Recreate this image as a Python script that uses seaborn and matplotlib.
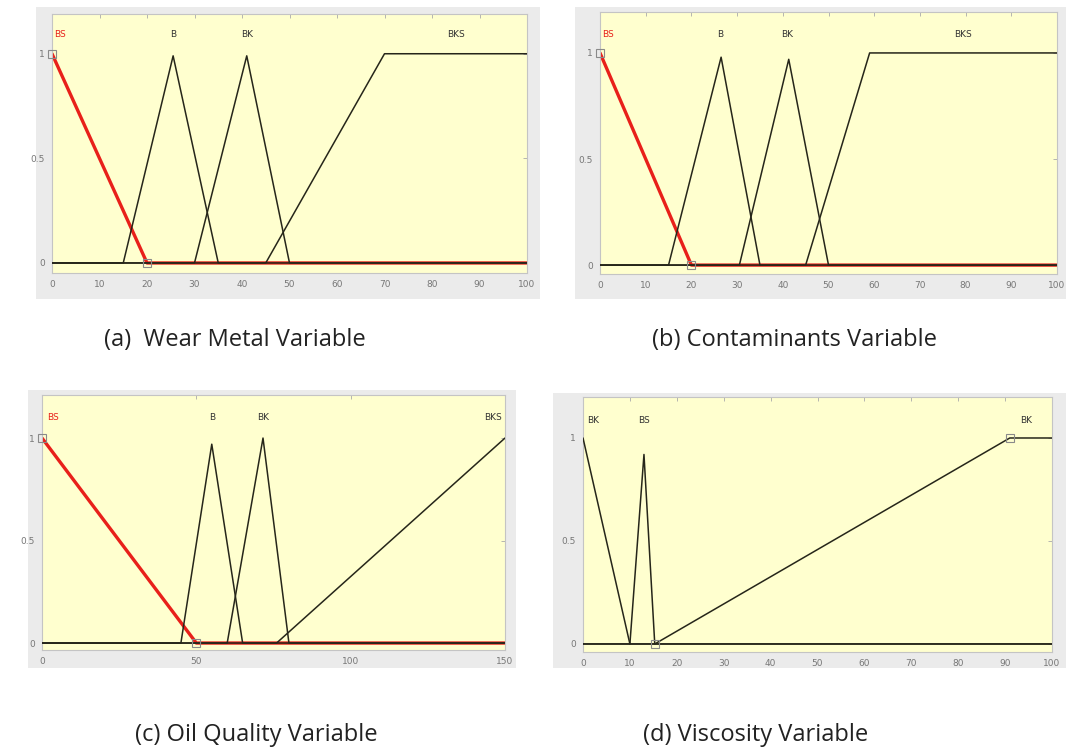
import matplotlib
matplotlib.use("Agg")
import matplotlib.pyplot as plt
import seaborn as sns
import pandas as pd
from matplotlib.patches import Rectangle

sns.set_style("white")
plt.rcParams['font.family'] = ['Open Sans', 'DejaVu Sans']

# ---------------- DATA ----------------
# (a) Wear Metal Variable
wm_names = ["BS", "B", "BK", "BKS"]
wm_bs_x = [0, 20, 100];            wm_bs_y = [1, 0, 0]
wm_b_x = [0, 15, 25.5, 35, 100];   wm_b_y = [0, 0, 0.99, 0, 0]
wm_bk_x = [0, 30, 41, 50, 100];    wm_bk_y = [0, 0, 0.99, 0, 0]
wm_bks_x = [0, 45, 70, 100];       wm_bks_y = [0, 0, 1, 1]
wm_label_x = [1.7, 25.5, 41, 85]
wm_sel_x = [0, 20];                wm_sel_y = [1, 0]

# (b) Contaminants Variable
ct_names = ["BS", "B", "BK", "BKS"]
ct_bs_x = [0, 20, 100];            ct_bs_y = [1, 0, 0]
ct_b_x = [0, 15, 26.5, 35, 100];   ct_b_y = [0, 0, 0.98, 0, 0]
ct_bk_x = [0, 30.5, 41.3, 50, 100]; ct_bk_y = [0, 0, 0.97, 0, 0]
ct_bks_x = [0, 45, 59, 100];       ct_bks_y = [0, 0, 1, 1]
ct_label_x = [1.7, 26.4, 41, 79.5]
ct_sel_x = [0, 20];                ct_sel_y = [1, 0]

# (c) Oil Quality Variable
oq_names = ["BS", "B", "BK", "BKS"]
oq_bs_x = [0, 50, 150];            oq_bs_y = [1, 0, 0]
oq_b_x = [0, 45, 55, 65, 150];     oq_b_y = [0, 0, 0.97, 0, 0]
oq_bk_x = [0, 60, 71.6, 80, 150];  oq_bk_y = [0, 0, 1, 0, 0]
oq_bks_x = [0, 76, 150];           oq_bks_y = [0, 0, 1]
oq_label_x = [3.6, 55, 71.5, 146]
oq_sel_x = [0, 50];                oq_sel_y = [1, 0]

# (d) Viscosity Variable
vs_names = ["BK", "BS", "BK"]
vs_bk1_x = [0, 10, 100];           vs_bk1_y = [1, 0, 0]
vs_bs_x = [0, 10, 13, 15.3, 100];  vs_bs_y = [0, 0, 0.92, 0, 0]
vs_bk2_x = [0, 15.3, 91, 100];     vs_bk2_y = [0, 0, 1, 1]
vs_label_x = [2.1, 13, 94.5]
vs_sel_x = [15.3, 91];             vs_sel_y = [0, 1]

captions = ["(a)  Wear Metal Variable", "(b) Contaminants Variable",
            "(c) Oil Quality Variable", "(d) Viscosity Variable"]

# ---------------- STYLE ----------------
W, H = 1068, 747
AX_FACE = "#FFFFCF"
PANEL_GREY = "#EBEBEB"
LINE_DARK = "#26261a"
RED = "#E8201A"

fig = plt.figure(figsize=(W / 100, H / 100), dpi=100)
fig.patch.set_facecolor("white")

# background axes holding the grey frames
bg = fig.add_axes([0, 0, 1, 1], zorder=-10)
bg.set_xlim(0, W)
bg.set_ylim(H, 0)
bg.axis("off")


def px_rect(x0, y0, x1, y1):
    return [x0 / W, 1 - y1 / H, (x1 - x0) / W, (y1 - y0) / H]


def grey_panel(x0, y0, x1, y1):
    bg.add_patch(Rectangle((x0, y0), x1 - x0, y1 - y0, facecolor=PANEL_GREY,
                           edgecolor="none"))


def draw_panel(rect, xlim, ylim, xticks, mfs, red_idx, names, label_x, label_y,
               sel_x, sel_y):
    ax = fig.add_axes(rect, zorder=1)
    ax.set_facecolor(AX_FACE)
    order = ([red_idx] if red_idx is not None else []) + \
            [i for i in range(len(mfs)) if i != red_idx]
    for i in order:
        xs, ys = mfs[i]
        df = pd.DataFrame({"x": xs, "y": ys})
        if i == red_idx:
            sns.lineplot(data=df, x="x", y="y", sort=False, estimator=None,
                         color=RED, linewidth=2.4, ax=ax, zorder=2)
        else:
            sns.lineplot(data=df, x="x", y="y", sort=False, estimator=None,
                         color=LINE_DARK, linewidth=1.1, ax=ax, zorder=3)
    ax.plot(sel_x, sel_y, linestyle="none", marker="s", markersize=6,
            markerfacecolor="none", markeredgecolor="#8a8a8a", markeredgewidth=0.8,
            zorder=4, clip_on=False)
    for j, (name, lx) in enumerate(zip(names, label_x)):
        col = RED if j == red_idx else "#333333"
        ax.text(lx, label_y, name, ha="center", va="center", fontsize=6.5,
                color=col, family=["DejaVu Sans"], zorder=5)
    ax.set_xlim(*xlim)
    ax.set_ylim(*ylim)
    ax.set_xticks(xticks)
    ax.set_xticklabels([str(t) for t in xticks])
    ax.set_yticks([0, 0.5, 1])
    ax.set_yticklabels(["0", "0.5", "1"])
    ax.set_xlabel("")
    ax.set_ylabel("")
    ax.tick_params(direction="in", length=3, width=0.6, color="#aaaaaa",
                   labelsize=6.5, labelcolor="#777777", top=True, right=True,
                   pad=5)
    for lab in ax.get_xticklabels() + ax.get_yticklabels():
        lab.set_family("DejaVu Sans")
    for s in ax.spines.values():
        s.set_color("#c4c4c4")
        s.set_linewidth(0.8)
    return ax


# grey frames
grey_panel(36, 7, 540, 299)
grey_panel(575, 7, 1066, 299)
grey_panel(28, 390, 516, 668)
grey_panel(553, 393, 1066, 668)

ticks100 = list(range(0, 101, 10))
ticks150 = [0, 50, 100, 150]

draw_panel(px_rect(52, 14, 527, 273), (0, 100), (-0.048, 1.19), ticks100,
           [(wm_bs_x, wm_bs_y), (wm_b_x, wm_b_y), (wm_bk_x, wm_bk_y), (wm_bks_x, wm_bks_y)],
           0, wm_names, wm_label_x, 1.09, wm_sel_x, wm_sel_y)

draw_panel(px_rect(600, 12, 1057, 274), (0, 100), (-0.042, 1.193), ticks100,
           [(ct_bs_x, ct_bs_y), (ct_b_x, ct_b_y), (ct_bk_x, ct_bk_y), (ct_bks_x, ct_bks_y)],
           0, ct_names, ct_label_x, 1.085, ct_sel_x, ct_sel_y)

draw_panel(px_rect(42, 395, 505, 650), (0, 150), (-0.034, 1.21), ticks150,
           [(oq_bs_x, oq_bs_y), (oq_b_x, oq_b_y), (oq_bk_x, oq_bk_y), (oq_bks_x, oq_bks_y)],
           0, oq_names, oq_label_x, 1.10, oq_sel_x, oq_sel_y)

draw_panel(px_rect(583, 397, 1052, 652), (0, 100), (-0.039, 1.199), ticks100,
           [(vs_bk1_x, vs_bk1_y), (vs_bs_x, vs_bs_y), (vs_bk2_x, vs_bk2_y)],
           None, vs_names, vs_label_x, 1.087, vs_sel_x, vs_sel_y)

# captions
cap_pos = [(235, 340), (795, 340), (256, 735), (756, 735)]
for txt, (cx, cy) in zip(captions, cap_pos):
    fig.text(cx / W, 1 - cy / H, txt, ha="center", va="center", fontsize=17,
             color="#222222")

fig.savefig("out.png", dpi=100, facecolor="white")
